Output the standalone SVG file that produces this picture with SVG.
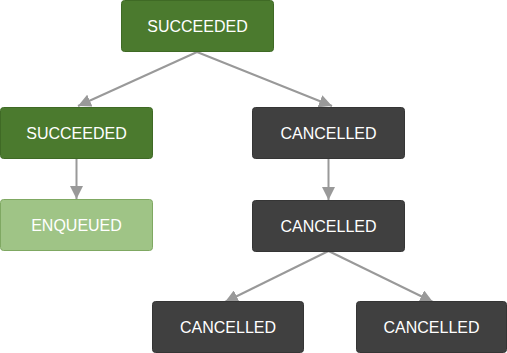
<svg xmlns="http://www.w3.org/2000/svg" width="507" height="353" viewBox="0 0 507 353">
<defs>
<style>
.n rect{stroke-width:1}
.ok rect{fill:#4b7a2e;stroke:#3f6a25}
.enq rect{fill:#9fc486;stroke:#7fa862}
.can rect{fill:#404040;stroke:#353535}
text{font-family:"Liberation Sans",Arial,sans-serif;font-size:16px;fill:#fff;text-anchor:middle;dominant-baseline:central}
.e line{stroke:#999;stroke-width:2;marker-end:url(#ah)}
</style>
<marker id="ah" viewBox="0 0 10 10" refX="10" refY="5" markerWidth="6.5" markerHeight="6.5" markerUnits="strokeWidth" orient="auto">
<path d="M0,0L10,5L0,10z" fill="#999"/>
</marker>
</defs>
<rect width="507" height="353" fill="#fff"/>
<g class="e">
<line x1="197" y1="52" x2="78" y2="106"/>
<line x1="197" y1="52" x2="332" y2="106"/>
<line x1="76.5" y1="158" x2="76.5" y2="199"/>
<line x1="328.5" y1="158" x2="328.5" y2="200"/>
<line x1="328.5" y1="251" x2="225" y2="302"/>
<line x1="328.5" y1="251" x2="433" y2="302"/>
</g>
<g id="n1" class="n ok"><rect x="121.5" y="0.5" width="152" height="51" rx="3"/><text x="197.5" y="26">SUCCEEDED</text></g>
<g id="n2" class="n ok"><rect x="0.5" y="107.5" width="152" height="51" rx="3"/><text x="76.5" y="133">SUCCEEDED</text></g>
<g id="n3" class="n enq"><rect x="0.5" y="199.5" width="152" height="51" rx="3"/><text x="76.5" y="225">ENQUEUED</text></g>
<g id="n4" class="n can"><rect x="252.5" y="107.5" width="152" height="51" rx="3"/><text x="328.5" y="133">CANCELLED</text></g>
<g id="n5" class="n can"><rect x="252.5" y="200.5" width="152" height="51" rx="3"/><text x="328.5" y="226">CANCELLED</text></g>
<g id="n6" class="n can"><rect x="152.5" y="301.5" width="151" height="51" rx="3"/><text x="228" y="327">CANCELLED</text></g>
<g id="n7" class="n can"><rect x="356.5" y="301.5" width="150" height="51" rx="3"/><text x="431.5" y="327">CANCELLED</text></g>
</svg>
